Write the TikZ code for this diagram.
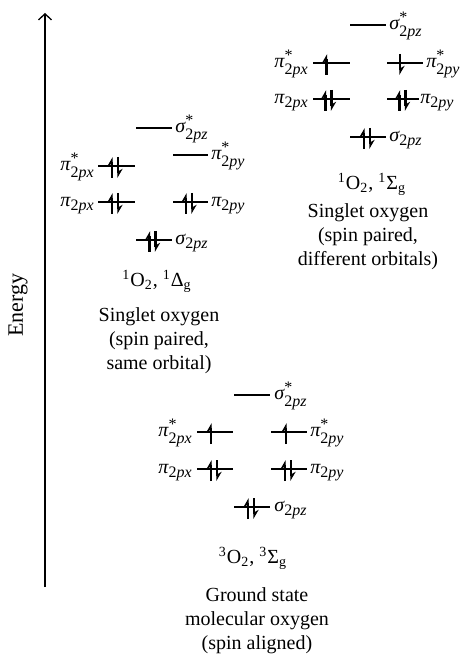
\documentclass[tikz,border=0pt]{standalone}
\usepackage{fontspec}
\setmainfont{Liberation Serif}
\usetikzlibrary{arrows.meta}
\tikzset{
  lvl/.style={line width=0.65pt},
  spinup/.style={line width=1.2pt,-{Stealth[harpoon,length=4pt,width=4.6pt]}},
  spindn/.style={spinup},
  orbl/.style={anchor=base east,inner sep=0pt},
  orbr/.style={anchor=base west,inner sep=0pt},
  state/.style={anchor=north,inner sep=0pt},
  desc/.style={anchor=north,inner sep=0pt,align=center},
  axis/.style={line width=0.65pt,-{Straight Barb[length=3pt,width=6.5pt]}}
}
\newcommand\orbs[2]{$\mbox{\itshape #1}^{\mbox{\footnotesize *}}_{\mbox{\footnotesize 2\itshape #2}}$}
\newcommand\orb[2]{$\mbox{\itshape #1}_{\mbox{\footnotesize 2\itshape #2}}$}
\newcommand\upspin[2]{\draw[spinup] ({#1-4.5},{#2+12}) -- ({#1-4.5},{#2-9});}
\newcommand\dnspin[2]{\draw[spindn] ({#1+1.5},{#2-9}) -- ({#1+1.5},{#2+12});}
\newcommand\pairspin[2]{\upspin{#1}{#2}\dnspin{#1}{#2}}

\begin{document}
\begin{tikzpicture}[x=0.5pt,y=-0.5pt]
    \useasboundingbox (0,0) rectangle (468,656);
    \coordinate (ebot) at (45,587);
    \coordinate (etop) at (45,13);
    \draw[axis] (ebot) -- (etop);
    \node[rotate=90,font=\fontsize{11}{13}\selectfont] (energy) at (18,305) {Energy};

    % singlet, same orbital
    \draw[lvl] (136,128) -- (172,128);
    \node[orbr] (dsigs) at (175,132.5) {\orbs{σ}{pz}};
    \draw[lvl] (98,166) -- (135,166);
    \node[orbl] (dpixs) at (95,170.5) {\orbs{π}{px}};
    \pairspin{116.5}{166}
    \draw[lvl] (173,155) -- (208,155);
    \node[orbr] (dpiys) at (211,159.5) {\orbs{π}{py}};
    \draw[lvl] (98,202) -- (135,202);
    \node[orbl] (dpix) at (95,206.5) {\orb{π}{px}};
    \pairspin{116.5}{202}
    \draw[lvl] (173,202) -- (208,202);
    \node[orbr] (dpiy) at (211,206.5) {\orb{π}{py}};
    \pairspin{190.5}{202}
    \draw[lvl] (136,240) -- (172,240);
    \node[orbr] (dsig) at (175,244.5) {\orb{σ}{pz}};
    \pairspin{154}{240}
    \node[state] (dstate) at (157,270) {\textsuperscript{1}O\textsubscript{2}, \textsuperscript{1}Δ\textsubscript{g}};
    \node[desc] (ddesc) at (159,307) {Singlet oxygen\\(spin paired,\\same orbital)};

    % singlet, different orbitals
    \draw[lvl] (350,25) -- (386,25);
    \node[orbr] (ssigs) at (389,29.5) {\orbs{σ}{pz}};
    \draw[lvl] (313,63) -- (350,63);
    \node[orbl] (spixs) at (309,67.5) {\orbs{π}{px}};
    \upspin{331}{63}
    \draw[lvl] (387,63) -- (423,63);
    \node[orbr] (spiys) at (426,67.5) {\orbs{π}{py}};
    \dnspin{398.5}{63}
    \draw[lvl] (313,99) -- (350,99);
    \node[orbl] (spix) at (309,103.5) {\orb{π}{px}};
    \pairspin{330}{99}
    \draw[lvl] (387,99) -- (419,99);
    \node[orbr] (spiy) at (420,103.5) {\orb{π}{py}};
    \pairspin{404}{99}
    \draw[lvl] (350,137) -- (386,137);
    \node[orbr] (ssig) at (389,141.5) {\orb{σ}{pz}};
    \pairspin{368.5}{137}
    \node[state] (sstate) at (372,173) {\textsuperscript{1}O\textsubscript{2}, \textsuperscript{1}Σ\textsubscript{g}};
    \node[desc] (sdesc) at (368,203) {Singlet oxygen\\(spin paired,\\different orbitals)};

    % triplet ground state
    \draw[lvl] (234,395) -- (270,395);
    \node[orbr] (tsigs) at (274,399.5) {\orbs{σ}{pz}};
    \draw[lvl] (197,432) -- (233,432);
    \node[orbl] (tpixs) at (193,436.5) {\orbs{π}{px}};
    \upspin{215.5}{432}
    \draw[lvl] (271,432) -- (307,432);
    \node[orbr] (tpiys) at (310,436.5) {\orbs{π}{py}};
    \upspin{290.5}{432}
    \draw[lvl] (197,469) -- (233,469);
    \node[orbl] (tpix) at (193,473.5) {\orb{π}{px}};
    \pairspin{215.5}{469}
    \draw[lvl] (271,469) -- (307,469);
    \node[orbr] (tpiy) at (310,473.5) {\orb{π}{py}};
    \pairspin{289.5}{469}
    \draw[lvl] (234,507) -- (270,507);
    \node[orbr] (tsig) at (274,511.5) {\orb{σ}{pz}};
    \pairspin{252.5}{507}
    \node[state] (tstate) at (253,547) {\textsuperscript{3}O\textsubscript{2}, \textsuperscript{3}Σ\textsubscript{g}};
    \node[desc] (tdesc) at (257,587) {Ground state\\molecular oxygen\\(spin aligned)};
\end{tikzpicture}
\end{document}
